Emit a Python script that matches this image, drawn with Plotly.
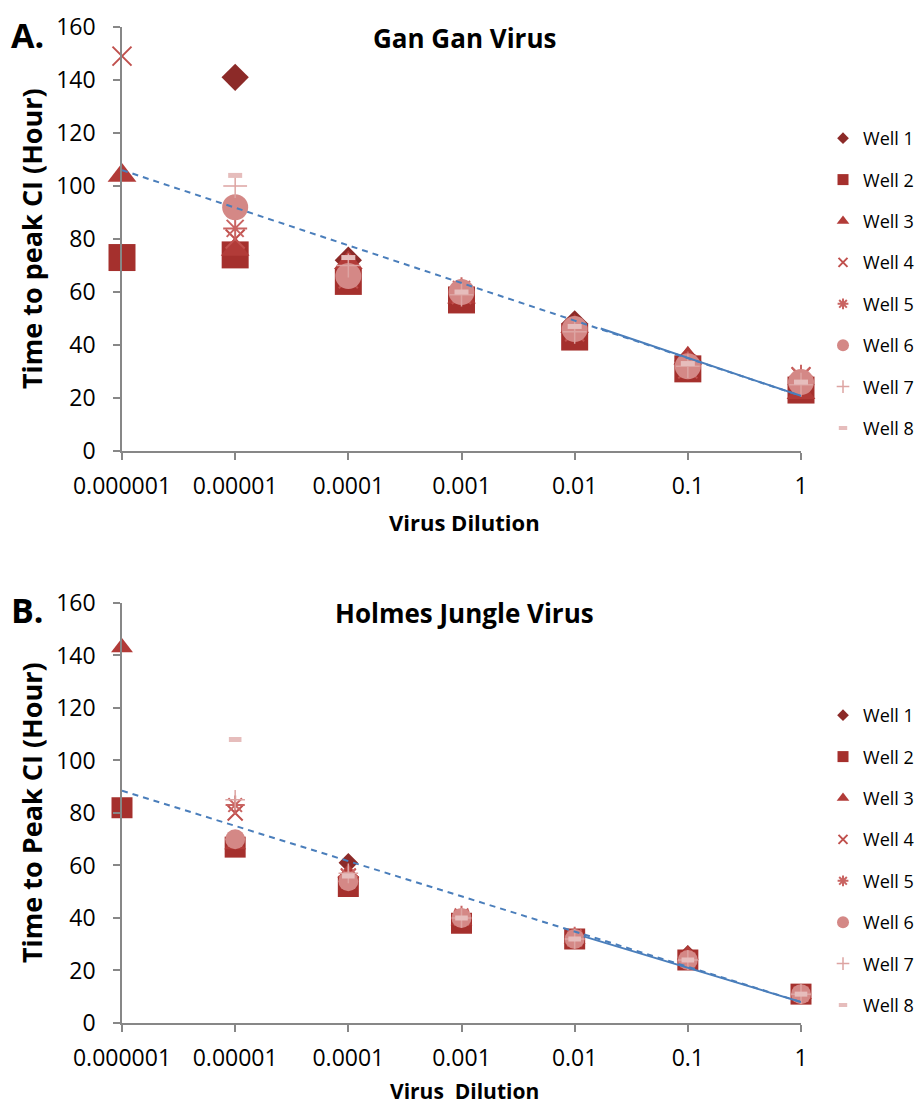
import plotly.graph_objects as go

# ---------------- data ----------------
dilutions = [1e-6, 1e-5, 1e-4, 1e-3, 1e-2, 1e-1, 1]
tick_labels = ["0.000001", "0.00001", "0.0001", "0.001", "0.01", "0.1", "1"]
wells = ["Well 1", "Well 2", "Well 3", "Well 4", "Well 5", "Well 6", "Well 7", "Well 8"]

gan_w1 = [None, 141, 72, 60, 48, 34, 25]
gan_w2 = [73, 74, 64, 57, 43, 31, 23]
gan_w3 = [104, 76, 71, 58, 47, 35, 22]
gan_w4 = [149, 80, 65, 59, 45, 31, 28]
gan_w5 = [None, 84, 66, 61, 46, 33, 28]
gan_w6 = [None, 92, 66, 60, 46, 32, 26]
gan_w7 = [None, 100, 70, 59, 45, 32, 25]
gan_w8 = [None, 104, 73, 60, 47, 33, 26]

hol_w1 = [None, 68, 61, 39, 32, 26, 11]
hol_w2 = [82, 67, 52, 38, 32, 24, 11]
hol_w3 = [143, 68, 57, 39, 32, 26, 11]
hol_w4 = [None, 80, 56, 40, 32, 24, 11]
hol_w5 = [None, 83, 56, 41, 33, 24, 11]
hol_w6 = [None, 70, 54, 40, 32, 24, 11]
hol_w7 = [None, 85, 57, 40, 32, 24, 11]
hol_w8 = [None, 108, 56, 40, 32, 24, 11]

# trendlines: full dashed span and solid tail
gan_trend_x = [1e-6, 1]
gan_trend_y = [106, 20.8]
gan_solid_x = [0.017, 1]
gan_solid_y = [46.2, 20.8]

hol_trend_x = [1e-6, 1]
hol_trend_y = [88.5, 8.0]
hol_solid_x = [0.012, 1]
hol_solid_y = [33.0, 8.0]

gan_series = [gan_w1, gan_w2, gan_w3, gan_w4, gan_w5, gan_w6, gan_w7, gan_w8]
hol_series = [hol_w1, hol_w2, hol_w3, hol_w4, hol_w5, hol_w6, hol_w7, hol_w8]

# ---------------- styles ----------------
colors = ["#8C2A28", "#A5302D", "#B23B38", "#C0504D", "#C96462", "#D48886", "#DDA4A2", "#E6BDBC"]
symbols = ["diamond", "square", "triangle-up", "x-thin-open", "asterisk-open",
           "circle", "cross-thin-open", "line-ew-open"]
top_sizes = [21, 27, 25, 19, 20, 26, 17, 10]
bot_sizes = [15, 21, 19, 15, 16, 20, 14, 9]
leg_sizes = [9, 11, 11, 9, 9, 12, 9, 6]
line_w = {3: 2, 4: 2, 6: 1.5, 7: 5}

FONT = "Open Sans"
AXIS_COL = "#878787"
TREND_COL = "#4A7EBB"

fig = go.Figure()


def add_panel(series, sizes, xa, ya, legend_name):
    for i, ys in enumerate(series):
        lw = line_w.get(i, 0)
        fig.add_trace(go.Scatter(
            x=dilutions, y=ys, mode="markers", name=wells[i],
            xaxis=xa, yaxis=ya, showlegend=False, cliponaxis=False,
            marker=dict(symbol=symbols[i], size=sizes[i], color=colors[i],
                        line=dict(width=lw, color=colors[i])),
        ))
    # legend entries (small markers)
    for i in range(len(series)):
        lw = line_w.get(i, 0)
        fig.add_trace(go.Scatter(
            x=[None], y=[None], mode="markers", name=wells[i],
            xaxis=xa, yaxis=ya, legend=legend_name, legendgroup=legend_name + str(i),
            marker=dict(symbol=symbols[i], size=leg_sizes[i], color=colors[i],
                        line=dict(width=min(lw, 2) if i != 7 else 4, color=colors[i])),
        ))


add_panel(gan_series, top_sizes, "x", "y", "legend")
add_panel(hol_series, bot_sizes, "x2", "y2", "legend2")

# trendlines
for tx, ty, sx, sy, xa, ya in [
    (gan_trend_x, gan_trend_y, gan_solid_x, gan_solid_y, "x", "y"),
    (hol_trend_x, hol_trend_y, hol_solid_x, hol_solid_y, "x2", "y2"),
]:
    fig.add_trace(go.Scatter(x=tx, y=ty, mode="lines", xaxis=xa, yaxis=ya, showlegend=False,
                             cliponaxis=False,
                             line=dict(color=TREND_COL, width=2, dash="6px,5px")))
    fig.add_trace(go.Scatter(x=sx, y=sy, mode="lines", xaxis=xa, yaxis=ya, showlegend=False,
                             cliponaxis=False,
                             line=dict(color=TREND_COL, width=2)))

xaxis_common = dict(
    type="log", range=[-6, 0], tickmode="array", tickvals=dilutions, ticktext=tick_labels,
    showline=True, linecolor=AXIS_COL, linewidth=1.5, ticks="outside", ticklen=7,
    tickcolor=AXIS_COL, tickwidth=1.5, showgrid=False, zeroline=False,
    tickfont=dict(family=FONT, size=23, color="#000000"), ticklabelstandoff=7,
    automargin=False,
)
yaxis_common = dict(
    range=[0, 160], tickmode="array", tickvals=list(range(0, 161, 20)),
    showline=True, linecolor=AXIS_COL, linewidth=1.5, ticks="outside", ticklen=7,
    tickcolor=AXIS_COL, tickwidth=1.5, showgrid=False, zeroline=False,
    tickfont=dict(family=FONT, size=23, color="#000000"), ticklabelstandoff=13,
    automargin=False,
)

legend_common = dict(
    font=dict(family=FONT, size=18, color="#000000"), traceorder="grouped",
    tracegroupgap=15, xanchor="left", yanchor="top", bgcolor="rgba(0,0,0,0)",
    itemwidth=30, xref="container", yref="container",
)

fig.update_layout(
    width=924, height=1106,
    margin=dict(l=122, r=123, t=27, b=83, autoexpand=False),
    paper_bgcolor="white", plot_bgcolor="white",
    xaxis=dict(domain=[0, 1], anchor="y", **xaxis_common),
    yaxis=dict(domain=[0.5743, 1], anchor="x", **yaxis_common),
    xaxis2=dict(domain=[0, 1], anchor="y2", **xaxis_common),
    yaxis2=dict(domain=[0, 0.4217], anchor="x2", **yaxis_common),
    legend=dict(x=0.8907, y=0.8915, **legend_common),
    legend2=dict(x=0.8907, y=0.3698, **legend_common),
    font=dict(family=FONT),
)

annots = [
    dict(text="<b>A.</b>", x=-0.167, y=0.992, xanchor="left", yanchor="middle", size=34),
    dict(text="<b>B.</b>", x=-0.167, y=0.415, xanchor="left", yanchor="middle", size=34),
    dict(text="<b>Gan Gan Virus</b>", x=0.5037, y=0.989, xanchor="center", yanchor="middle", size=26),
    dict(text="<b>Holmes Jungle Virus</b>", x=0.5037, y=0.4116, xanchor="center", yanchor="middle", size=26),
    dict(text="<b>Virus Dilution</b>", x=0.5037, y=0.503, xanchor="center", yanchor="middle", size=22),
    dict(text="<b>Virus\u00a0 Dilution</b>", x=0.5037, y=-0.0683, xanchor="center", yanchor="middle", size=21),
]
for a in annots:
    fig.add_annotation(text=a["text"], x=a["x"], y=a["y"], xref="paper", yref="paper",
                       xanchor=a["xanchor"], yanchor=a["yanchor"], showarrow=False,
                       font=dict(family=FONT, size=a["size"], color="#000000"))

for txt, yref in [("<b>Time to peak CI (Hour)</b>", "y domain"), ("<b>Time to Peak CI (Hour)</b>", "y2 domain")]:
    fig.add_annotation(text=txt, x=-0.1325, y=0.5, xref="paper", yref=yref, textangle=-90,
                       xanchor="center", yanchor="middle", showarrow=False,
                       font=dict(family=FONT, size=27, color="#000000"))

fig.write_html("out.html")
